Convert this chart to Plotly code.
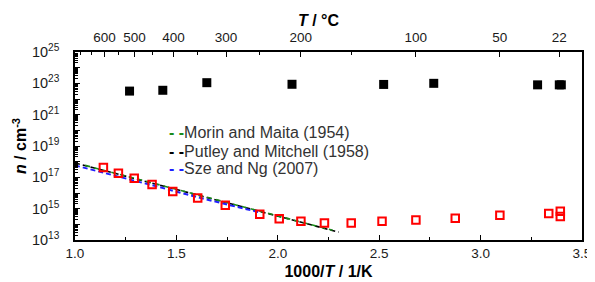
import plotly.graph_objects as go

# ---- data ----
# black filled squares
blk_x = [1.269, 1.433, 1.650, 2.070, 2.522, 2.769, 3.281, 3.388, 3.398]
blk_n = [3.2e22, 3.6e22, 1.1e23, 8.7e22, 8.5e22, 1.0e23, 8.0e22, 8.0e22, 8.0e22]
# red open squares
red_x = [1.140, 1.214, 1.292, 1.380, 1.482, 1.605, 1.741, 1.911, 2.007, 2.114,
         2.230, 2.362, 2.514, 2.681, 2.875, 3.095, 3.336, 3.393, 3.393]
red_n = [4.2e17, 1.8e17, 8.7e16, 3.5e16, 1.26e16, 4.8e15, 1.66e15, 4.4e14, 2.3e14, 1.6e14,
         1.2e14, 1.2e14, 1.6e14, 1.9e14, 2.45e14, 3.8e14, 5.0e14, 6.8e14, 3.2e14]
# Morin and Maita (1954)
mm_x = [1.05, 1.30, 1.55, 1.80, 2.05, 2.27]
mm_n = [5.8e17, 8.3e16, 1.2e16, 1.7e15, 2.4e14, 4.2e13]
# Putley and Mitchell (1958)
pm_x = [1.00, 1.25, 1.50, 1.75, 2.00, 2.30]
pm_n = [8.3e17, 1.17e17, 1.8e16, 2.5e15, 3.5e14, 3.2e13]
# Sze and Ng (2007)
sn_x = [1.00, 1.08, 1.25, 1.42, 1.60, 1.81, 1.91]
sn_n = [5.8e17, 3.2e17, 8.5e16, 2.3e16, 5.5e15, 1.2e15, 5.8e14]

series_names = ["Morin and Maita (1954)", "Putley and Mitchell (1958)", "Sze and Ng (2007)"]
series_colors = ["#1a8a1a", "#000000", "#1f1fff"]

# top axis labels (deg C)
top_major = [600, 500, 400, 300, 200, 100, 50, 22]
top_minor = [700, 650, 550, 450, 350, 250, 150]
# y axis decades
y_dec = list(range(13, 26))

FONT = "Liberation Sans, Arial, sans-serif"
TXT = "#1a1a1a"

fig = go.Figure()

fig.add_trace(go.Scatter(x=pm_x, y=pm_n, mode="lines", name=series_names[1], showlegend=False,
                         line=dict(color=series_colors[1], width=1.6, dash="5px,3px")))
fig.add_trace(go.Scatter(x=mm_x, y=mm_n, mode="lines", name=series_names[0], showlegend=False,
                         line=dict(color=series_colors[0], width=1.6, dash="5px,4px")))
fig.add_trace(go.Scatter(x=sn_x, y=sn_n, mode="lines", name=series_names[2], showlegend=False,
                         line=dict(color=series_colors[2], width=2, dash="5px,3px")))
fig.add_trace(go.Scatter(x=blk_x, y=blk_n, mode="markers", showlegend=False,
                         marker=dict(symbol="square", size=9, color="black")))
fig.add_trace(go.Scatter(x=red_x, y=red_n, mode="markers", showlegend=False,
                         marker=dict(symbol="square-open", size=7.5, color="red",
                                     line=dict(width=2, color="red"))))
# invisible trace for top axis
fig.add_trace(go.Scatter(x=[1, 3.5], y=[1e13, 1e13], xaxis="x2", mode="markers",
                         marker=dict(opacity=0), showlegend=False, hoverinfo="skip"))

y_tickvals = [10.0 ** d for d in y_dec]
y_ticktext = [("10<sup>%d</sup>" % d) if d % 2 == 1 else "" for d in y_dec]
y_minor = [k * 10.0 ** d for d in y_dec[:-1] for k in range(2, 10)]

# legend drawn as text entries
leg_y_px = [128.3, 147.3, 165.5]
plot_top, plot_bot = 44.3, 239.3
annotations = []
for name, col, ypx in zip(series_names, series_colors, leg_y_px):
    annotations.append(dict(
        text='<span style="color:%s"><b>- -</b></span>%s' % (col, name),
        x=(160 - 67) / 512.0, y=(plot_bot - ypx) / (plot_bot - plot_top),
        xref="paper", yref="paper", xanchor="left", yanchor="middle",
        showarrow=False, font=dict(size=16, color="#333333", family=FONT)))
annotations.append(dict(text="<b><i>T</i> / °C</b>", x=0.482, y=1.0, xref="paper", yref="paper",
                        yshift=32, showarrow=False, font=dict(size=16, color="black"),
                        xanchor="center", yanchor="middle"))

fig.update_layout(
    width=595, height=282,
    margin=dict(l=67, r=16, t=44, b=43),
    paper_bgcolor="white", plot_bgcolor="white",
    font=dict(family=FONT, size=13, color=TXT),
    showlegend=False,
    xaxis=dict(range=[1.0, 3.5], tickvals=[1.0, 1.5, 2.0, 2.5, 3.0, 3.5],
               ticktext=["1.0", "1.5", "2.0", "2.5", "3.0", "3.5"],
               ticks="inside", ticklen=5, tickwidth=1, tickcolor="black",
               minor=dict(tickvals=[1.25, 1.75, 2.25, 2.75, 3.25], ticks="inside",
                          ticklen=3, tickcolor="black"),
               showline=True, linecolor="black", linewidth=1.5, showgrid=False,
               zeroline=False, ticklabeloverflow="allow",
               tickfont=dict(size=13.5, color=TXT),
               title=dict(text="<b>1000/<i>T</i> / 1/K</b>", font=dict(size=16, color="black"),
                          standoff=6)),
    xaxis2=dict(range=[1.0, 3.5], overlaying="x", side="top",
                tickvals=[1000.0 / (t + 273.15) for t in top_major],
                ticktext=[str(t) for t in top_major],
                ticks="inside", ticklen=5, tickwidth=1, tickcolor="black",
                minor=dict(tickvals=[1000.0 / (t + 273.15) for t in top_minor],
                           ticks="inside", ticklen=3, tickcolor="black"),
                showline=True, linecolor="black", linewidth=1.5, showgrid=False,
                zeroline=False, ticklabelstandoff=3, tickfont=dict(size=13.5, color=TXT)),
    yaxis=dict(type="log", range=[13, 25], tickvals=y_tickvals, ticktext=y_ticktext,
               ticks="inside", ticklen=5, tickwidth=1.2, tickcolor="black",
               minor=dict(tickvals=y_minor, ticks="inside", ticklen=3, tickcolor="black"),
               showline=True, linecolor="black", linewidth=1.5, mirror=True,
               showgrid=False, zeroline=False, ticklabelstandoff=11,
               tickfont=dict(size=14.5, color=TXT),
               title=dict(text="<b><i>n</i> / cm<sup>-3</sup></b>",
                          font=dict(size=16, color="black"), standoff=1)),
    annotations=annotations,
)

fig.write_html("out.html")
